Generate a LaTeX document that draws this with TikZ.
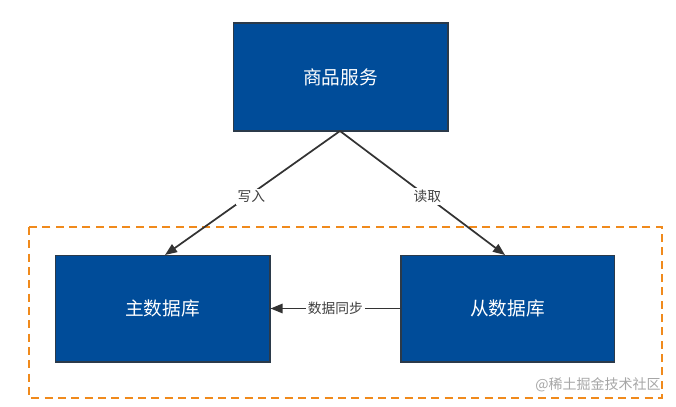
\documentclass[tikz,border=0pt]{standalone}
\usepackage{fontspec}
\newfontfamily\cjk{Noto Sans CJK SC}
\usetikzlibrary{arrows.meta}
\definecolor{boxblue}{HTML}{004C99}
\definecolor{boxedge}{HTML}{2B3A4A}
\definecolor{linegray}{HTML}{333333}
\definecolor{dashorange}{HTML}{F08A1C}
\begin{document}
\begin{tikzpicture}[x=0.75pt,y=-0.75pt,
  dbbox/.style={draw=boxedge,line width=1pt,fill=boxblue,text=white,font=\cjk\fontsize{14}{16}\selectfont,inner sep=0pt},
  conn/.style={draw=linegray,line width=1.3pt,-{Triangle[length=9pt,width=7pt]}},
  lbl/.style={fill=white,text=black!75,font=\cjk\fontsize{10.3}{12}\selectfont,inner sep=1.5pt}]
\useasboundingbox (0,0) rectangle (676,407);
\draw[dashorange,line width=1.3pt,dash pattern=on 6pt off 4pt] (29,227) rectangle (662,398);
\node[dbbox,minimum width=161pt,minimum height=81pt] (svc) at (340.5,77) {商品服务};
\node[dbbox,minimum width=161pt,minimum height=80pt] (master) at (162.5,308.5) {主数据库};
\node[dbbox,minimum width=160pt,minimum height=80pt] (slave) at (507.5,308.5) {从数据库};
\coordinate (mtop) at (165,255);
\coordinate (stop) at (505,255);
\coordinate (sbot) at (340,131);
\draw[conn] (sbot) -- node[lbl,pos=0.53,xshift=3pt] {写入} (mtop);
\draw[conn] (sbot) -- node[lbl,pos=0.53] {读取} (stop);
\draw[conn] (slave.west) -- node[lbl,pos=0.5] {数据同步} (master.east);
\node[text=black!35,font=\cjk\fontsize{10.5}{12}\selectfont,anchor=east,inner sep=0pt] (wm) at (661,385) {@稀土掘金技术社区};
\end{tikzpicture}
\end{document}
